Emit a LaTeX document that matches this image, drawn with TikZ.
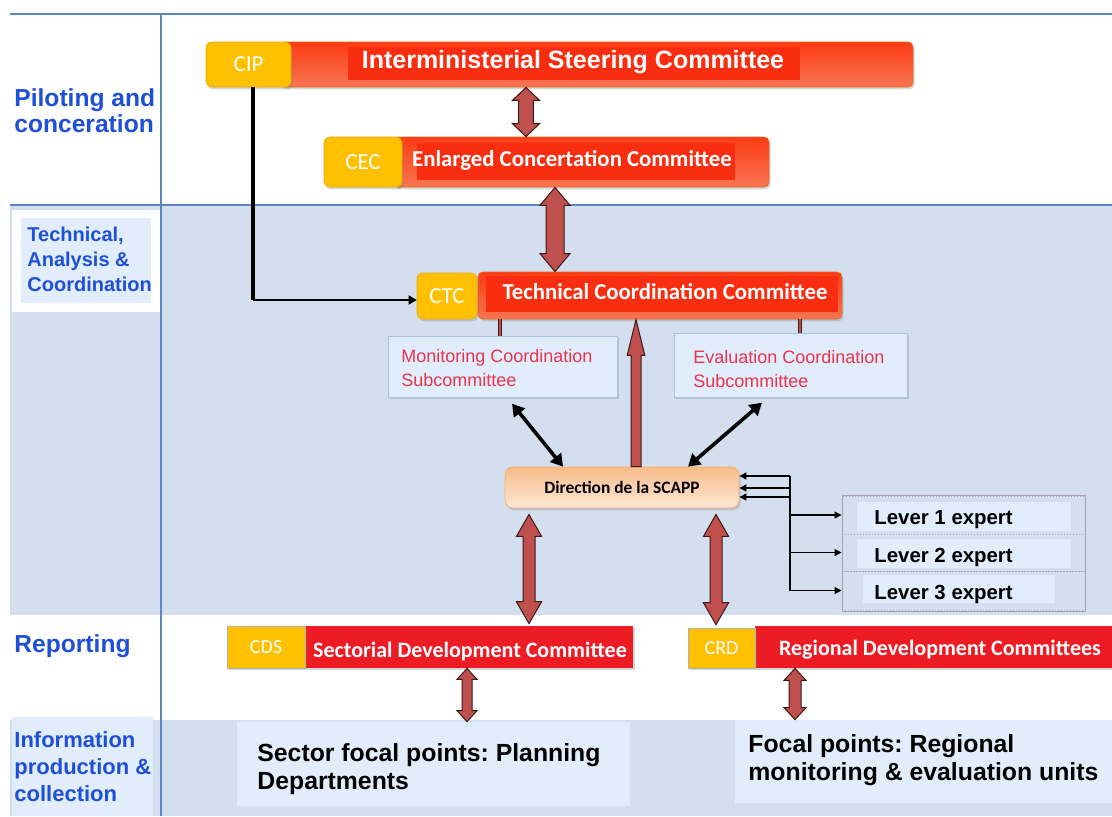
\documentclass[tikz,border=0pt]{standalone}
\usepackage{fontspec}
\setmainfont{Liberation Sans}
\newfontfamily\calib{Carlito}
\usetikzlibrary{arrows.meta,calc,fit,shadows}
\frenchspacing
\definecolor{band}{HTML}{D3DFEE}
\definecolor{lightbox}{HTML}{E2EDFB}
\definecolor{bline}{HTML}{5B86C0}
\definecolor{ylw}{HTML}{FFC000}
\definecolor{ylwedge}{HTML}{E9A800}
\definecolor{barTop}{HTML}{FB3C14}
\definecolor{barBot}{HTML}{F87553}
\definecolor{barIn}{HTML}{F92E10}
\definecolor{barEdge}{HTML}{E8661C}
\definecolor{flatred}{HTML}{ED1C24}
\definecolor{lblue}{HTML}{1E4FD8}
\definecolor{arrfill}{HTML}{C0504D}
\definecolor{arrdark}{HTML}{3A1A19}
\definecolor{subred}{HTML}{E8344E}
\definecolor{subedge}{HTML}{A9C1DE}
\definecolor{scTop}{HTML}{F9BC8A}
\definecolor{scBot}{HTML}{FDE7D6}
\definecolor{levedge}{HTML}{A79CC2}
\newcommand\fatdbl[5]{%
  \draw[fatarr] let \p1=#1, \p2=#2 in
   (\x1,\y1) -- (\x1+#4,\y1-#5) -- (\x1+#3,\y1-#5) -- (\x1+#3,\y2+#5)
   -- (\x1+#4,\y2+#5) -- (\x1,\y2) -- (\x1-#4,\y2+#5) -- (\x1-#3,\y2+#5)
   -- (\x1-#3,\y1-#5) -- (\x1-#4,\y1-#5) -- cycle;}
\newcommand\fatup[5]{%
  \draw[fatarr] let \p1=#1, \p2=#2 in
   (\x1,\y1) -- (\x1+#4,\y1-#5) -- (\x1+#3,\y1-#5) -- (\x1+#3,\y2)
   -- (\x1-#3,\y2) -- (\x1-#3,\y1-#5) -- (\x1-#4,\y1-#5) -- cycle;}
\begin{document}
\begin{tikzpicture}[x=0.5pt,y=-0.5pt,
  fitbox/.style={inner sep=0pt},
  shd/.style={drop shadow={opacity=0.3,shadow xshift=0.8pt,shadow yshift=-1.2pt}},
  bar/.style={fitbox,shd,rounded corners=2.5pt,top color=barTop,bottom color=barBot,draw=barEdge,line width=0.4pt},
  barin/.style={fitbox,fill=barIn},
  ybox/.style={fitbox,shd,rounded corners=3pt,fill=ylw,draw=ylwedge,line width=0.3pt},
  ytxt/.style={inner sep=0pt,text=white,font=\calib\fontsize{11.5}{13}\selectfont},
  bartxt/.style={inner sep=0pt,text=white,font=\calib\bfseries\fontsize{11.4}{13}\selectfont},
  flatbar/.style={fitbox,shd,fill=flatred},
  flattxt/.style={inner sep=0pt,text=white,font=\calib\bfseries\fontsize{11}{13}\selectfont},
  flaty/.style={fitbox,shd,fill=ylw,draw=gray!60,line width=0.3pt},
  flatytxt/.style={inner sep=0pt,text=white,font=\calib\fontsize{10}{12}\selectfont},
  sub/.style={fitbox,shd,fill=lightbox,draw=subedge,line width=0.5pt},
  subtxt/.style={anchor=west,inner sep=0pt,text=subred,align=left,font=\fontsize{9}{12}\selectfont},
  focal/.style={fitbox,fill=lightbox},
  focaltxt/.style={anchor=west,align=left,inner sep=0pt,text=black,font=\bfseries\fontsize{12.4}{14}\selectfont},
  lbl/.style={anchor=west,align=left,text=lblue,inner sep=0pt},
  levrow/.style={fitbox,draw=levedge,densely dotted,line width=0.5pt},
  levin/.style={fitbox,fill=lightbox},
  levtxt/.style={anchor=west,inner sep=0pt,font=\bfseries\fontsize{10.2}{12}\selectfont},
  fatarr/.style={fill=arrfill,draw=arrdark,line width=0.5pt,line join=miter},
  thinarr/.style={line width=0.6pt,-{Triangle[length=3.5pt,width=3.5pt]}},
  blkdbl/.style={line width=1.8pt,{Triangle[length=6pt,width=7pt]}-{Triangle[length=6pt,width=7pt]}},
  ribbon/.style={draw=arrdark,double=arrfill,double distance=1.4pt,line width=0.4pt}
]
\useasboundingbox (0,0) rectangle (1112,816);
\fill[white] (0,0) rectangle (1112,816);
% bands
\fill[band] (10,205) rectangle (1112,615);
\fill[band] (10,720) rectangle (1112,816);
\draw[bline,line width=0.8pt] (10,14) -- (1112,14);
\draw[bline,line width=0.8pt] (10,205) -- (1112,205);
\draw[bline,line width=1pt] (161,14) -- (161,816);
\fill[white] (12,210) rectangle (160,312);
\fill[lightbox] (21,218) rectangle (151,303);
\fill[lightbox] (12,717) rectangle (153,816);
% left labels
\node[lbl,font=\bfseries\fontsize{12.3}{13}\selectfont] (l1) at (14,111) {Piloting and\\conceration};
\node[lbl,font=\bfseries\fontsize{10}{12.5}\selectfont] (l2) at (27,259) {Technical,\\Analysis \&\\Coordination};
\node[lbl,font=\bfseries\fontsize{12.3}{13}\selectfont] (l3) at (14,646) {Reporting};
\node[lbl,font=\bfseries\fontsize{11}{13.5}\selectfont] (l4) at (14,767) {Information\\production \&\\collection};
\coordinate (cipc) at (253,300);
% ISC
\node[bar,fit={(280,42)(913,87)}] (iscbar) {};
\node[barin,fit={(348,47)(800,80)}] (iscin) {};
\node[inner sep=0pt,text=white,font=\bfseries\fontsize{12.5}{14}\selectfont] (isc) at (573,62) {Interministerial Steering Committee};
\node[ybox,fit={(206,42)(291,87)}] (cip) {};
\node[ytxt] (ciptxt) at (cip.center) {CIP};
% CEC
\node[bar,fit={(393,137)(769,187)}] (cecbar) {};
\node[barin,fit={(417,143)(735,180)}] (cecin) {};
\node[bartxt] (cec) at (572,160) {Enlarged Concertation Committee};
\node[ybox,fit={(324,137)(402,187)}] (cecl) {};
\node[ytxt] (cectxt) at (cecl.center) {CEC};
% CTC
\node[bar,fit={(478,272)(842,319)}] (ctcbar) {};
\node[barin,fit={(486,276)(838,312)}] (ctcin) {};
\node[bartxt] (ctc) at (665,292) {Technical Coordination Committee};
\node[ybox,fit={(417,273)(477,319)}] (ctcl) {};
\node[ytxt] (ctctxt) at (ctcl.center) {CTC};
% CIP -> CTC
\draw[line width=2pt] (253,0 |- cip.south) -- (cipc);
\draw[line width=0.9pt,-{Triangle[length=4pt,width=4.5pt]}] (cipc) -- (ctcl.west |- cipc);
% subcommittees
\node[sub,fit={(388,336)(617,397)}] (mon) {};
\node[subtxt] (montxt) at (401,368) {Monitoring Coordination\\Subcommittee};
\node[sub,fit={(674,333)(907,397)}] (eval) {};
\node[subtxt] (evaltxt) at (693,369) {Evaluation Coordination\\Subcommittee};
\draw[ribbon] (500,0 |- ctcbar.south) -- (500,0 |- mon.north);
\draw[ribbon] (800,0 |- ctcbar.south) -- (800,0 |- eval.north);
% SCAPP
\node[fitbox,shd,rounded corners=4pt,top color=scTop,bottom color=scBot,draw=scTop!80!orange,line width=0.4pt,fit={(505,467)(739,508)}] (scapp) {};
\node[inner sep=0pt,font=\calib\bfseries\fontsize{8.7}{10}\selectfont] (scapptxt) at (622,487) {Direction de la SCAPP};
% levers
\node[fitbox,draw=levedge,line width=0.5pt,fit={(842,495)(1085,611)}] (levers) {};
\node[levrow,fit={(842,496)(1085,534)}] (lev1) {};
\node[levrow,fit={(842,534)(1085,571)}] (lev2) {};
\node[levrow,fit={(842,571)(1085,610)}] (lev3) {};
\node[levin,fit={(857,502)(1071,531)}] (lev1in) {};
\node[levin,fit={(857,539)(1071,568)}] (lev2in) {};
\node[levin,fit={(863,575)(1055,603)}] (lev3in) {};
\node[levtxt] (t1) at (874,520) {Lever 1 expert};
\node[levtxt] (t2) at (874,557) {Lever 2 expert};
\node[levtxt] (t3) at (874,594) {Lever 3 expert};
% reporting
\node[flatbar,fit={(305,626)(633,668)}] (cds) {};
\node[flattxt] (cdstxt) at (470,651) {Sectorial Development Committee};
\node[flaty,fit={(227,626)(305,668)}] (cdsl) {};
\node[flatytxt] (cdsltxt) at (cdsl.center) {CDS};
\node[flatbar,fit={(755,626)(1125,668)}] (crd) {};
\node[flattxt] (crdtxt) at (940,650) {Regional Development Committees};
\node[flaty,fit={(688,628)(755,668)}] (crdl) {};
\node[flatytxt] (crdltxt) at (crdl.center) {CRD};
% focal boxes
\node[focal,fit={(237,722)(630,806)}] (sector) {};
\node[focaltxt] (sectort) at (257,769) {Sector focal points: Planning\\Departments};
\node[focal,fit={(735,720)(1125,803)}] (focalb) {};
\node[focaltxt] (focalt) at (748,760) {Focal points: Regional\\monitoring \& evaluation units};
% fat arrows
\fatdbl{(526,0 |- iscbar.south)}{(526,0 |- cecbar.north)}{3.7pt}{6.8pt}{6.5pt}
\fatdbl{(555,0 |- cecbar.south)}{(555,0 |- ctcbar.north)}{4.5pt}{7.5pt}{9pt}
\fatup{(636,0 |- ctcbar.south)}{(636,0 |- scapp.north)}{2.5pt}{4.4pt}{18pt}
\fatdbl{($(529,0 |- scapp.south)+(0,6)$)}{($(529,0 |- cds.north)+(0,-2)$)}{3pt}{6.3pt}{11pt}
\fatdbl{($(716,0 |- scapp.south)+(0,6)$)}{($(716,0 |- crdl.north)+(0,-3)$)}{3pt}{6.3pt}{11pt}
\fatdbl{(467,0 |- cds.south)}{(467,0 |- sector.north)}{2.5pt}{5pt}{5.5pt}
\fatdbl{(795,0 |- crd.south)}{(795,0 |- focalb.north)}{3pt}{5.5pt}{6pt}
% black double arrows
\draw[blkdbl,shorten <=4pt] (507,0 |- mon.south) -- (563,0 |- scapp.north);
\draw[blkdbl,shorten <=4pt] (768,0 |- eval.south) -- (688,0 |- scapp.north);
% lever connectors
\coordinate (b0) at (790,476);
\coordinate (b1) at (790,488);
\coordinate (b2) at (790,497);
\draw[line width=0.6pt] (b0) -- (b0 |- lev3.west);
\draw[thinarr] (b0) -- (scapp.east |- b0);
\draw[thinarr] (b1) -- (scapp.east |- b1);
\draw[thinarr] (b2) -- (scapp.east |- b2);
\draw[thinarr] (b0 |- lev1.west) -- (lev1.west);
\draw[thinarr] (b0 |- lev2.west) -- (lev2.west);
\draw[thinarr] (b0 |- lev3.west) -- (lev3.west);
\end{tikzpicture}
\end{document}
